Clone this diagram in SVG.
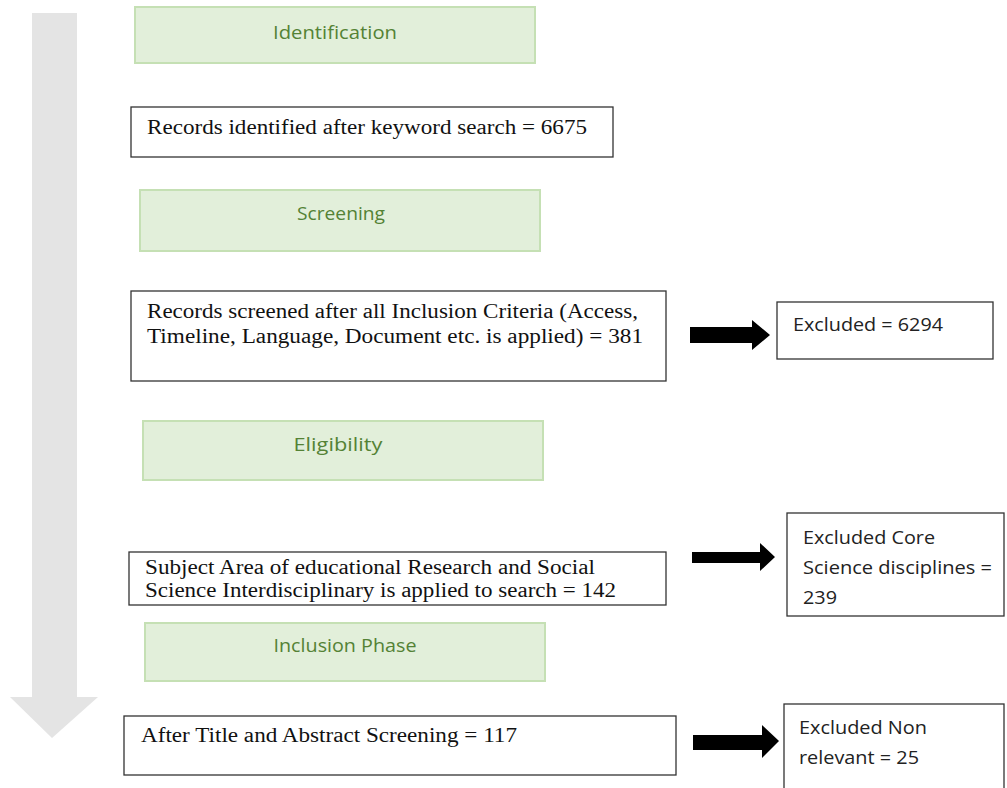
<svg xmlns="http://www.w3.org/2000/svg" width="1007" height="788" viewBox="0 0 1007 788">
<style>
.phase rect{fill:#e2efda;stroke:#c5e0b4;stroke-width:2}
.phase text{font-family:"Open Sans","Noto Sans",sans-serif;font-size:18px;fill:#548235;text-anchor:middle}
.rec rect,.exc rect{fill:#fff;stroke:#333;stroke-width:1.3}
.rec text{font-family:"Liberation Serif","Times New Roman",serif;font-size:20px;fill:#111}
.exc text{font-family:"Open Sans","Noto Sans",sans-serif;font-size:18px;fill:#222}
.blk{fill:#000}
</style>
<rect width="1007" height="788" fill="#fff"/>
<g id="flow-arrow">
<polygon points="32,13 77,13 77,697 98,697 52,738 10,697 32,697" fill="#e4e4e4"/>
</g>
<g id="identification" class="phase"><rect x="135" y="7" width="400" height="56"/><text x="335" y="39" textLength="124" lengthAdjust="spacingAndGlyphs">Identification</text></g>
<g id="records-identified" class="rec"><rect x="131" y="107" width="482" height="50"/><text x="147" y="134" textLength="440" lengthAdjust="spacingAndGlyphs">Records identified after keyword search = 6675</text></g>
<g id="screening" class="phase"><rect x="140" y="190" width="400" height="61"/><text x="341" y="220" textLength="88" lengthAdjust="spacingAndGlyphs">Screening</text></g>
<g id="records-screened" class="rec"><rect x="131" y="291" width="535" height="90"/><text x="147" y="318" textLength="491" lengthAdjust="spacingAndGlyphs">Records screened after all Inclusion Criteria (Access,</text><text x="147" y="343" textLength="496" lengthAdjust="spacingAndGlyphs">Timeline, Language, Document etc. is applied)  = 381</text></g>
<g id="excluded-6294" class="exc"><rect x="777" y="302" width="216" height="57"/><text x="793" y="331" textLength="150" lengthAdjust="spacingAndGlyphs">Excluded = 6294</text></g>
<g id="eligibility" class="phase"><rect x="143" y="421" width="400" height="59"/><text x="338" y="451" textLength="89" lengthAdjust="spacingAndGlyphs">Eligibility</text></g>
<g id="subject-area" class="rec"><rect x="129" y="552" width="537" height="53"/><text x="145" y="574" textLength="450" lengthAdjust="spacingAndGlyphs">Subject Area of educational Research and Social</text><text x="145" y="597" textLength="471" lengthAdjust="spacingAndGlyphs">Science Interdisciplinary is applied to search = 142</text></g>
<g id="excluded-core" class="exc"><rect x="787" y="513" width="217" height="103"/><text x="803" y="544" textLength="132" lengthAdjust="spacingAndGlyphs">Excluded Core</text><text x="803" y="574" textLength="189" lengthAdjust="spacingAndGlyphs">Science disciplines =</text><text x="803" y="604" textLength="34" lengthAdjust="spacingAndGlyphs">239</text></g>
<g id="inclusion-phase" class="phase"><rect x="145" y="623" width="400" height="58"/><text x="345" y="652" textLength="143" lengthAdjust="spacingAndGlyphs">Inclusion Phase</text></g>
<g id="title-abstract" class="rec"><rect x="124" y="716" width="552" height="59"/><text x="141" y="742" font-size="21" textLength="376" lengthAdjust="spacingAndGlyphs">After Title and Abstract Screening = 117</text></g>
<g id="excluded-nonrelevant" class="exc"><rect x="784" y="704" width="220" height="90"/><text x="799" y="734" textLength="128" lengthAdjust="spacingAndGlyphs">Excluded Non</text><text x="799" y="764" textLength="120" lengthAdjust="spacingAndGlyphs">relevant = 25</text></g>
<g id="connectors">
<polygon class="blk" points="690,327 752,327 752,320 770,335 752,350 752,343 690,343"/>
<polygon class="blk" points="692,552 760,552 760,543 775,557 760,571 760,563 692,563"/>
<polygon class="blk" points="693,735 762,735 762,725 779,741 762,758 762,750 693,750"/>
</g>
</svg>
